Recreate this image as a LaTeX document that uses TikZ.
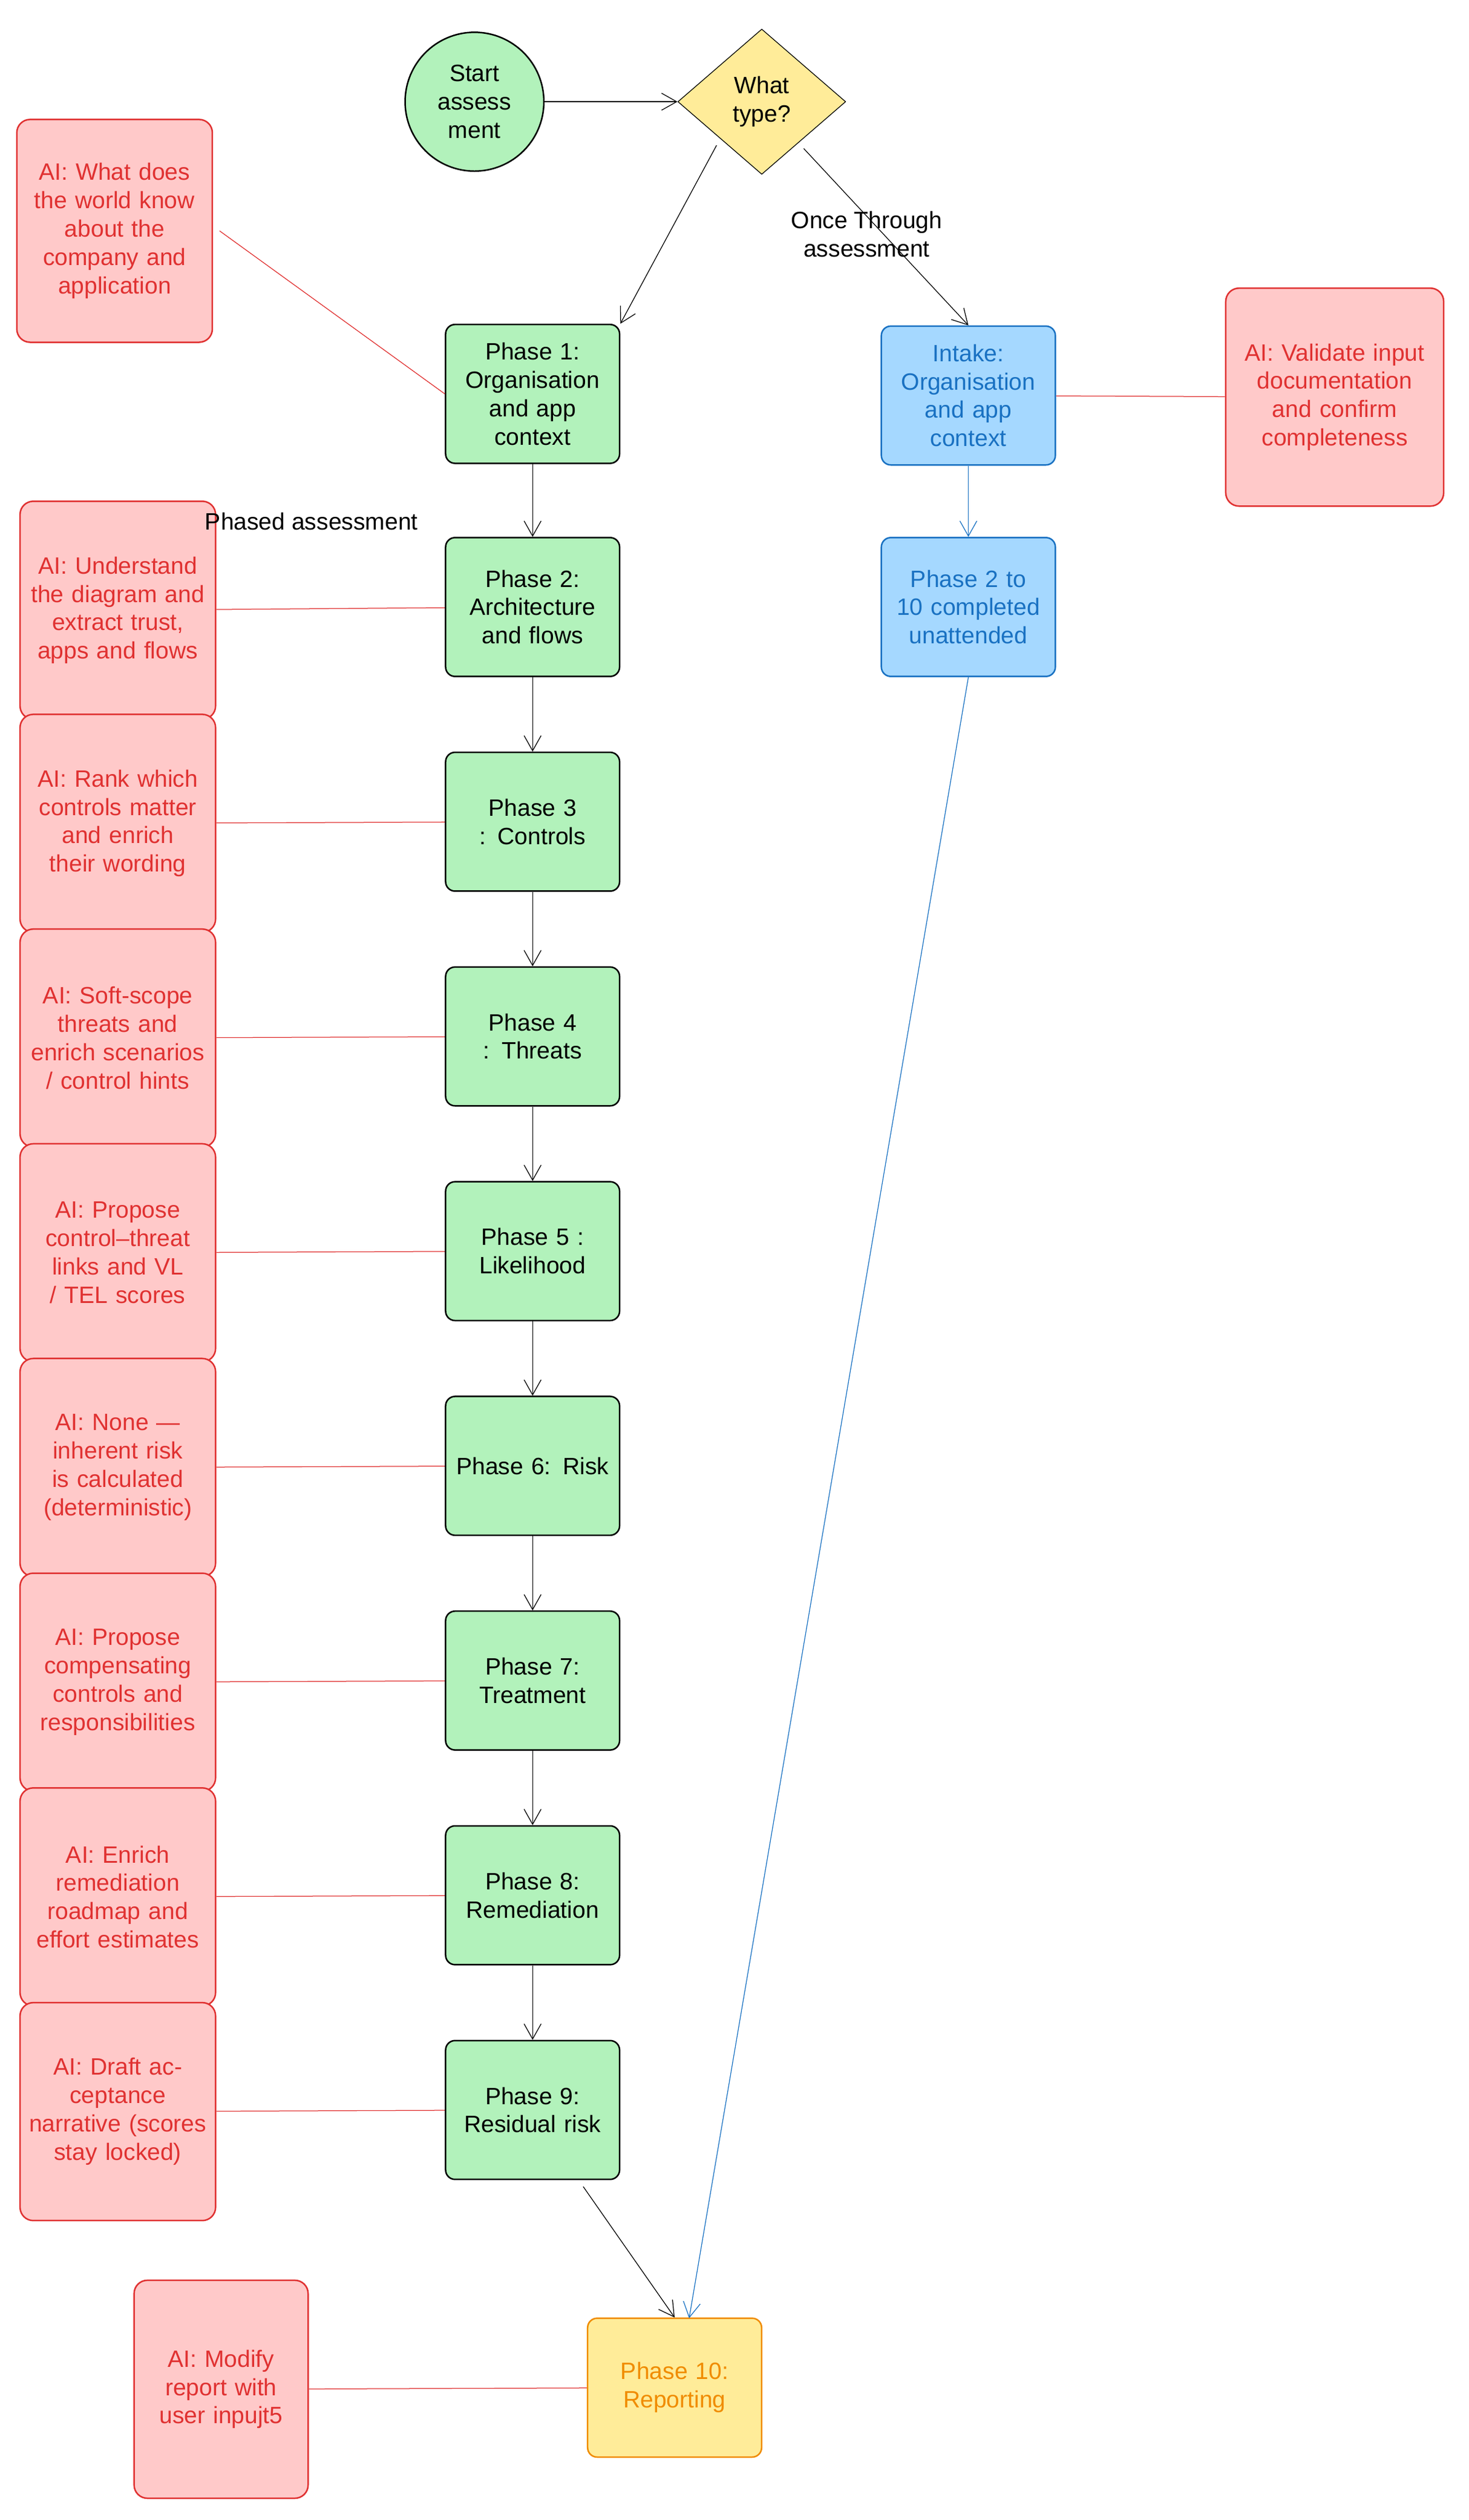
\documentclass[tikz,border=0pt]{standalone}
\usepackage{fontspec}
\setmainfont{Liberation Sans}
\usetikzlibrary{shapes.geometric,arrows.meta}
\definecolor{gf}{HTML}{B2F2BB}
\definecolor{rf}{HTML}{FFC9C9}
\definecolor{rs}{HTML}{E03131}
\definecolor{bf}{HTML}{A5D8FF}
\definecolor{bs}{HTML}{1971C2}
\definecolor{yf}{HTML}{FFEC99}
\definecolor{os}{HTML}{F08C00}
\begin{document}
\begin{tikzpicture}[x=0.03cm,y=-0.03cm,
  every node/.style={font=\fontsize{12.5}{15}\selectfont, align=center},
  ph/.style={draw=black, fill=gf, rounded corners=5pt, minimum width=3.18cm, minimum height=2.58cm, text width=3cm, thick},
  ai/.style={draw=rs, fill=rf, text=rs, rounded corners=7pt, minimum width=3.2cm, minimum height=4.05cm, text width=3.4cm, thick},
  bl/.style={draw=bs, fill=bf, text=bs, rounded corners=5pt, minimum width=3.18cm, minimum height=2.58cm, text width=3cm, thick},
  ar/.style={-{Straight Barb[length=8pt,width=9pt]}, thin},
  rl/.style={draw=rs, thin}]
\useasboundingbox (0,0) rectangle (910,1561);
\node[circle, draw=black, fill=gf, thick, minimum size=2.58cm, text width=1.8cm] (start) at (294,63) {Start assess ment};
\node[diamond, draw=black, fill=yf, thin, minimum width=3.12cm, minimum height=2.7cm, inner sep=0pt] (dec) at (472,63) {What\\type?};
\node[ph] (p1) at (330,244) {Phase 1: Organisation and app context};
\node[ph] (p2) at (330,376) {Phase 2: Architecture and flows};
\node[ph] (p3) at (330,509) {Phase 3 : Controls};
\node[ph] (p4) at (330,642) {Phase 4 : Threats};
\node[ph] (p5) at (330,775) {Phase 5 : Likelihood};
\node[ph] (p6) at (330,908) {Phase 6: Risk};
\node[ph] (p7) at (330,1041) {Phase 7: Treatment};
\node[ph] (p8) at (330,1174) {Phase 8: Remediation};
\node[ph] (p9) at (330,1307) {Phase 9: Residual risk};
\node[ph, fill=yf, draw=os, text=os] (p10) at (418,1479) {Phase 10: Reporting};
\node[bl] (in) at (600,245) {Intake: Organisation and app context};
\node[bl] (pu) at (600,376) {Phase 2 to 10 completed unattended};
\node[ai, minimum width=4.05cm, text width=3.6cm] (ar) at (827,246) {AI: Validate input documentation and confirm completeness};
\node[ai, minimum height=4.14cm] (a1) at (71,143) {AI: What does the world know about the company and application};
\node[ai] (a2) at (73,378) {AI: Understand the diagram and extract trust, apps and flows};
\node[ai] (a3) at (73,510) {AI: Rank which controls matter and enrich their wording};
\node[ai] (a4) at (73,643) {AI: Soft-scope threats and enrich scenarios / control hints};
\node[ai] (a5) at (73,776) {AI: Propose control–threat links and VL / TEL scores};
\node[ai] (a6) at (73,909) {AI: None — inherent risk is calculated (deterministic)};
\node[ai] (a7) at (73,1042) {AI: Propose compensating controls and responsibilities};
\node[ai] (a8) at (73,1175) {AI: Enrich remediation roadmap and effort estimates};
\node[ai] (a9) at (73,1308) {AI: Draft acceptance narrative (scores stay locked)};
\node[ai, minimum width=3.15cm, text width=3cm] (a10) at (137,1480) {AI: Modify report with user inpujt5};
\node (lo) at (537,145) {Once Through\\assessment};
\node (lp) at (193,323) {Phased assessment};
\draw[ar] (start) -- (dec);
\draw[ar] (444,90) -- (p1.north east);
\draw[ar] (498,92) -- (in.north);
\draw[ar] (p1) -- (p2);
\draw[ar] (p2) -- (p3);
\draw[ar] (p3) -- (p4);
\draw[ar] (p4) -- (p5);
\draw[ar] (p5) -- (p6);
\draw[ar] (p6) -- (p7);
\draw[ar] (p7) -- (p8);
\draw[ar] (p8) -- (p9);
\draw[ar] (p9.south east) ++(-23,4) -- (p10.north);
\draw[ar, draw=bs] (in) -- (pu);
\draw[ar, draw=bs] (pu.south) -- (427,1436);
\draw[rl] (a1.east) ++(4,0) -- (p1.west);
\draw[rl] (a2) -- (p2);
\draw[rl] (a3) -- (p3);
\draw[rl] (a4) -- (p4);
\draw[rl] (a5) -- (p5);
\draw[rl] (a6) -- (p6);
\draw[rl] (a7) -- (p7);
\draw[rl] (a8) -- (p8);
\draw[rl] (a9) -- (p9);
\draw[rl] (a10) -- (p10);
\draw[rl] (in) -- (ar);
\end{tikzpicture}
\end{document}
